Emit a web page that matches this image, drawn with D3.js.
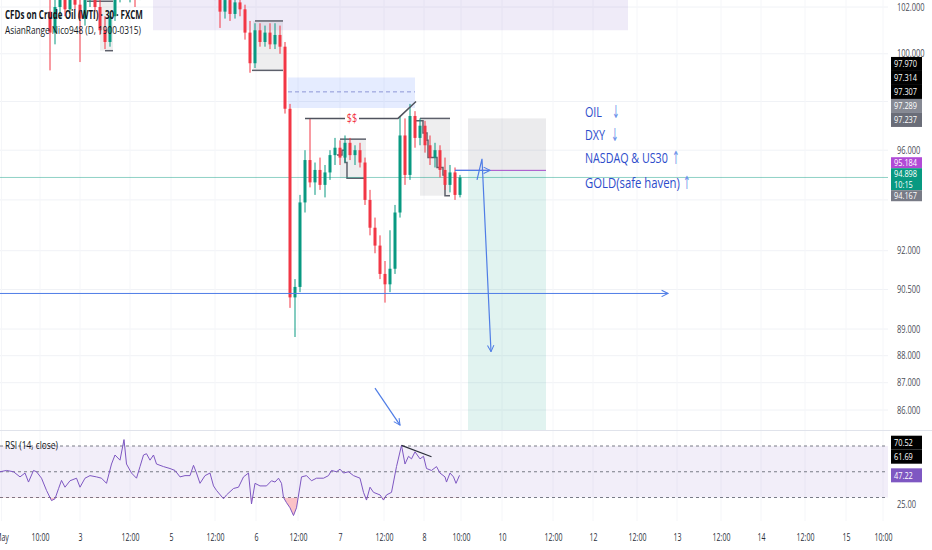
<!DOCTYPE html>
<html>
<head>
<meta charset="utf-8">
<script src="https://cdn.jsdelivr.net/npm/d3@7/dist/d3.min.js"></script>
<style>
  body { margin: 0; background: #fff; }
  svg { display: block; font-family: "Open Sans", sans-serif; }
</style>
</head>
<body>
<div id="chart"></div>
<script>
//---- sizes ----//
var width = 932, height = 550;
var plotW = 888;        // panes end here, price scale to the right
var priceBottom = 430;  // separator between price and RSI pane
var rsiBottom = 521;

//---- candles : one slot per bar, first visible slot ----//
var firstSlot = 10;
var opens = [101.8,100.9,102.0,102.4,101.9,102.5,102.1,101.5,102.3,102.9,
  102.0,101.0,100.5,101.6,102.5,103.1,102.9,103.3,102.5,103.2,
  103.7,104.1,103.9,104.5,104.9,104.6,104.2,104.4,104.1,103.7,
  103.9,103.5,103.1,102.9,102.6,101.8,102.3,101.7,102.2,101.9,
  100.9,99.6,101.0,100.5,100.9,100.4,100.8,100.3,97.7,90.2,
  90.6,93.9,95.6,94.7,95.2,94.6,95.1,95.8,96.1,95.7,
  96.3,95.8,96.0,95.5,94.0,92.9,92.2,91.1,90.7,91.3,
  93.5,96.6,95.0,97.4,96.5,97.0,96.2,95.7,96.0,95.2,
  94.6,95.1,94.2];
var highs = [102.6,102.5,103.0,103.0,102.8,103.0,102.6,102.6,103.2,103.2,
  102.3,101.6,101.8,102.8,103.4,103.8,103.5,103.6,103.5,104.0,
  104.4,104.6,104.8,105.1,105.3,105.0,104.7,104.9,104.5,104.2,
  104.3,103.9,103.5,103.3,103.0,102.6,102.7,102.5,102.8,102.1,
  101.4,101.3,101.3,101.2,101.3,101.3,101.2,100.5,97.9,90.9,
  94.2,96.0,97.3,95.5,95.7,95.4,96.0,96.5,96.4,96.6,
  96.5,96.2,96.3,95.7,94.4,93.3,92.6,91.6,92.8,93.8,
  97.4,97.3,97.9,97.6,97.3,97.2,96.6,96.3,96.2,95.7,
  95.4,95.3,95.0];
var lows = [99.3,100.4,101.5,101.6,101.7,101.9,99.65,101.2,102.0,101.8,
  100.8,100.2,100.3,101.4,102.2,102.6,102.2,102.0,102.3,102.9,
  103.4,103.6,103.7,104.2,104.3,104.0,103.8,104.0,103.4,103.2,
  103.3,102.9,102.6,102.3,101.1,101.5,101.4,101.5,101.6,100.6,
  99.2,99.4,100.3,100.3,100.2,100.2,100.0,97.5,89.8,88.7,
  90.4,93.5,94.5,94.2,94.4,94.1,94.8,95.4,95.4,95.5,
  95.6,95.4,95.3,93.8,92.6,91.9,90.9,90.0,90.4,91.1,
  93.3,94.6,94.8,96.1,96.2,95.9,95.4,95.3,94.9,94.4,
  94.3,94.0,94.1];
var closes = [100.9,102.0,102.4,101.9,102.5,102.1,101.5,102.3,102.9,102.0,
  101.0,100.5,101.6,102.5,103.1,102.9,103.3,102.5,103.2,103.7,
  104.1,103.9,104.5,104.9,104.6,104.2,104.4,104.1,103.7,103.9,
  103.5,103.1,102.9,102.6,101.8,102.3,101.7,102.2,101.9,100.9,
  99.6,101.0,100.5,100.9,100.4,100.8,100.3,97.7,90.2,90.6,
  93.9,95.6,94.7,95.2,94.6,95.1,95.8,96.1,95.7,96.3,
  95.8,96.0,95.5,94.0,92.9,92.2,91.1,90.7,91.3,93.5,
  96.6,95.0,97.4,96.5,97.0,96.2,95.7,96.0,95.2,94.6,
  95.1,94.2,94.898];

//---- RSI (14, close) ----//
var rsiT = [0,1.3,2.7,4,5,5.7,6.7,7.3,8.3,9.3,10.3,11,11.7,12.3,13,14,15.3,16,17,18,
  19.3,20.3,21.3,22.3,23,24,24.8,25.3,26.3,27.3,28,28.7,29.3,30,30.7,31.3,32.7,34,35,36,
  37,38,38.7,39.3,40,41,42,42.7,43.3,44.7,45.3,46.7,47.7,48.7,49.7,50.3,51,52,53.3,54.3,
  55,55.7,56.3,56.7,57.3,58,58.7,59.3,60.3,61.3,62.3,63.3,64.7,65.7,66.3,67.3,68,68.7,69.7,70.7,
  72,72.7,73.3,74,74.7,76,76.7,77.3,78.3,79.3,80.3,81,81.7,82.3,83,84,84.7,85.3,86.3,87.3,
  88,89,89.3,90,90.7,91.2,91.9];
var rsiV = [50,51,50,46,49,42,51,50,45,35.5,27.6,29,36.8,43.3,38,43,45,38,45,47,
  46,45,41,56,63,59,75,56,49,45,54,63,64,59,63,56,54,52.5,51,46,
  47,47,55,49,41,47,49,39,35.5,29,32,37,38,46,49,25,41,39,39,43,
  42,45,41,30,26,22,16,22,46,47,43,45,45,47,51,50,52,49,50,47,
  45,34,28,38,34,32,28,32,34,54,70.5,56,62,60,65.5,60,62,52.5,51,54,
  49,46,42,49,46,41,47.22];
var rsiTrendT = [80.3, 86.3];
var rsiTrendV = [70.52, 61.69];

//---- axis ticks ----//
var priceTicks = [102, 100, 96, 92, 90.5, 89, 88, 87, 86];
var gridTicks = [102, 100, 98, 96, 94, 92, 90.5, 89, 88, 87, 86];
var rsiTicks = [25];
var timePos = [0.3, 8, 16, 26, 34.2, 43, 51.2, 59.6, 68, 76.8, 84.8, 92.2, 100.4,
  110.6, 118.6, 127.4, 135.4, 144.2, 152.2, 161, 169.2, 176.6];
var timeLabels = ["May","10:00","3","12:00","5","12:00","6","12:00","7","12:00","8",
  "10:00","10","12:00","12","12:00","13","12:00","14","12:00","15","10:00"];

//---- price scale tags ----//
var tagsTop = [97.970, 97.314, 97.307, 97.289, 97.237];
var tagsTopFill = ['#000000','#000000','#000000','#868993','#6a6d78'];
var tagsMid = [95.184, 94.898, 94.167];
var tagsMidFill = ['#b14ad6','#089981','#787b86'];
var tagsMidSub = ['', '10:15', ''];
var rsiTags = [70.52, 61.69, 47.22];
var rsiTagsFill = ['#000000','#000000','#7e57c2'];
var lastPrice = 94.898;

//---- drawings (slot, price) ----//
var zoneT1 = [30.6, 57.6], zoneT2 = [125.6, 83];
var zoneTop = [103.5, 99.0], zoneBottom = [101.0, 97.73], zoneMid = [null, 98.4];

var boxT1 = [20, 50.6, 68, 84], boxT2 = [22.6, 56.6, 73.2, 90];
var boxTopFrom = [17.4, 51, 68, 84];
var boxHigh = [102.25, 101.4, 96.45, 97.3], boxLow = [100.13, 99.3, 94.87, 94.167];
var lowPathT = [[21, 22.6], [50.4, 56.6], [67.4, 68.4, 69, 69.4, 73.2],
  [83, 84.6, 85.4, 85.6, 87.4, 88.6, 89, 90]];
var lowPathP = [[100.13, 100.13], [99.3, 99.3], [95.8, 96.0, 95.5, 94.87, 94.87],
  [97.2, 96.7, 96.4, 95.7, 95.3, 95.0, 94.167, 94.167]];

var liqT = [61, 79.6, 83.2], liqP = [97.3, 97.3, 98.0], liqLabelT = 70.4;

var posT = [93.6, 109.2], posEntry = 95.184, posStop = 97.3, posTarget = 85.0;

var rayT = [0, 133.6], rayP = 90.35;
var arrowDownT = [95.4, 96.4, 98.2], arrowDownP = [94.8, 95.65, 88.15];
var arrowRightT = [91, 98], arrowRightP = [95.184, 95.184];
var arrowSmallT = [75, 80], arrowSmallP = [86.8, 85.45];

var noteT = 117;
var noteP = [97.36, 96.42, 95.48, 94.47];
var noteText = ['OIL', 'DXY', 'NASDAQ & US30', 'GOLD(safe haven)'];
var noteArrow = ['\u2193', '\u2193', '\u2191', '\u2191'];
var noteW = [17, 20, 83, 95];
var noteGap = [10, 6, 4, 3];

//---- scales ----//
var x = d3.scaleLinear().domain([0, 178]).range([0, 890]);
var y = d3.scaleLog().domain([86, 102]).range([410, 7]);
var yr = d3.scaleLinear().domain([30, 70]).range([497.5, 446]);

var upCol = '#089981', downCol = '#f23645';

//---- svg ----//
var svg = d3.select('#chart').append('svg').attr('width', width).attr('height', height);
svg.append('rect').attr('width', width).attr('height', height).attr('fill', '#fff');
var defs = svg.append('defs');
defs.append('clipPath').attr('id', 'clipPrice').append('rect')
  .attr('x', 0).attr('y', 0).attr('width', plotW).attr('height', priceBottom);
defs.append('clipPath').attr('id', 'clipRsi').append('rect')
  .attr('x', 0).attr('y', priceBottom + 1).attr('width', plotW).attr('height', rsiBottom - priceBottom - 1);
defs.append('clipPath').attr('id', 'clipLow').append('rect')
  .attr('x', 0).attr('y', yr(30)).attr('width', plotW).attr('height', 40);
defs.append('clipPath').attr('id', 'clipHigh').append('rect')
  .attr('x', 0).attr('y', priceBottom).attr('width', plotW).attr('height', yr(70) - priceBottom);

function chevron(id, color) {
  defs.append('marker').attr('id', id).attr('viewBox', '0 0 10 10')
    .attr('refX', 9).attr('refY', 5).attr('markerWidth', 8).attr('markerHeight', 8)
    .attr('markerUnits', 'userSpaceOnUse').attr('orient', 'auto')
    .append('path').attr('d', 'M1,1 L9,5 L1,9').attr('fill', 'none')
    .attr('stroke', color).attr('stroke-width', 1.3);
}
chevron('headBlue', '#4f7de6');

// text helper, the screenshot is squeezed sideways
// opt.fit squeezes the text to a wanted width, opt.sx by a fixed factor
function txt(g, str, px, py, size, color, opt) {
  opt = opt || {};
  var t = g.append('text').attr('font-size', size).attr('fill', color).text(str);
  if (opt.weight) t.attr('font-weight', opt.weight);
  if (opt.anchor) t.attr('text-anchor', opt.anchor);
  if (opt.dy) t.attr('dy', opt.dy);
  if (opt.family) t.attr('font-family', opt.family);
  var k = opt.sx || 1;
  if (opt.fit) k = opt.fit / t.node().getComputedTextLength();
  t.attr('transform', 'translate(' + px + ',' + py + ') scale(' + k + ',1)');
  return t;
}

//---- grid ----//
var grid = svg.append('g');
grid.selectAll('.hg').data(gridTicks).enter().append('line')
  .attr('x1', 0).attr('x2', plotW).attr('y1', d => y(d)).attr('y2', d => y(d))
  .attr('stroke', '#f0f2f6');
grid.selectAll('.vg').data(timePos).enter().append('line')
  .attr('x1', d => x(d)).attr('x2', d => x(d)).attr('y1', 0).attr('y2', rsiBottom)
  .attr('stroke', '#f5f6f9');

//---- price pane ----//
var pane = svg.append('g').attr('clip-path', 'url(#clipPrice)');

// supply / demand zones
zoneT1.forEach(function(t, i) {
  pane.append('rect').attr('x', x(t)).attr('width', x(zoneT2[i]) - x(t))
    .attr('y', y(zoneTop[i])).attr('height', y(zoneBottom[i]) - y(zoneTop[i]))
    .attr('fill', i === 0 ? 'rgba(126,87,194,0.12)' : 'rgba(41,98,255,0.12)');
  if (zoneMid[i] !== null) {
    pane.append('line').attr('x1', x(t)).attr('x2', x(zoneT2[i]))
      .attr('y1', y(zoneMid[i])).attr('y2', y(zoneMid[i]))
      .attr('stroke', '#8e96d6').attr('stroke-dasharray', '4,3');
  }
});

// position tool
pane.append('rect').attr('x', x(posT[0])).attr('width', x(posT[1]) - x(posT[0]))
  .attr('y', y(posStop)).attr('height', y(posEntry) - y(posStop)).attr('fill', 'rgba(120,123,134,0.15)');
pane.append('rect').attr('x', x(posT[0])).attr('width', x(posT[1]) - x(posT[0]))
  .attr('y', y(posEntry)).attr('height', y(posTarget) - y(posEntry)).attr('fill', 'rgba(8,153,129,0.12)');

// asian range boxes
boxT1.forEach(function(t, i) {
  pane.append('rect').attr('x', x(t)).attr('width', x(boxT2[i]) - x(t))
    .attr('y', y(boxHigh[i])).attr('height', y(boxLow[i]) - y(boxHigh[i]))
    .attr('fill', 'rgba(120,123,134,0.13)');
  pane.append('line').attr('x1', x(boxTopFrom[i])).attr('x2', x(boxT2[i]))
    .attr('y1', y(boxHigh[i])).attr('y2', y(boxHigh[i]))
    .attr('stroke', '#5d606b').attr('stroke-width', 1.5);
});
var stepLine = d3.line().curve(d3.curveStepAfter);
lowPathT.forEach(function(ts, i) {
  pane.append('path')
    .attr('d', stepLine(ts.map(function(t, k) { return [x(t), y(lowPathP[i][k])]; })))
    .attr('fill', 'none').attr('stroke', '#5d606b').attr('stroke-width', 1.5);
});

// last price line and entry line
pane.append('line').attr('x1', 0).attr('x2', plotW).attr('y1', y(lastPrice)).attr('y2', y(lastPrice))
  .attr('stroke', upCol).attr('stroke-opacity', 0.45);
pane.append('line').attr('x1', x(arrowRightT[0])).attr('x2', x(posT[1]))
  .attr('y1', y(posEntry)).attr('y2', y(posEntry)).attr('stroke', '#a64bc9');

// candles
var candles = opens.map(function(o, i) {
  return { t: firstSlot + i, o: o, h: highs[i], l: lows[i], c: closes[i] };
});
pane.selectAll('.wick').data(candles).enter().append('line')
  .attr('x1', d => x(d.t)).attr('x2', d => x(d.t))
  .attr('y1', d => y(d.h)).attr('y2', d => y(d.l))
  .attr('stroke', d => d.c >= d.o ? upCol : downCol).attr('stroke-width', 1);
pane.selectAll('.body').data(candles).enter().append('rect')
  .attr('x', d => x(d.t) - 1.5).attr('width', 3)
  .attr('y', d => y(Math.max(d.o, d.c)))
  .attr('height', d => Math.max(1, Math.abs(y(d.o) - y(d.c))))
  .attr('fill', d => d.c >= d.o ? upCol : downCol);

// liquidity line with $$
var lineXY = d3.line();
pane.append('path')
  .attr('d', lineXY(liqT.map(function(t, k) { return [x(t), y(liqP[k])]; })))
  .attr('fill', 'none').attr('stroke', '#50535e').attr('stroke-width', 1.5);
pane.append('rect').attr('x', x(liqLabelT) - 7).attr('y', y(liqP[0]) - 6).attr('width', 14).attr('height', 12).attr('fill', '#fff');
txt(pane, '$$', x(liqLabelT), y(liqP[0]), 12, downCol, { anchor: 'middle', dy: '0.35em', sx: 0.75 });

// blue drawings
pane.append('line').attr('x1', x(rayT[0])).attr('x2', x(rayT[1])).attr('y1', y(rayP)).attr('y2', y(rayP))
  .attr('stroke', '#4f7de6').attr('stroke-width', 1).attr('marker-end', 'url(#headBlue)');
[[arrowDownT, arrowDownP], [arrowRightT, arrowRightP], [arrowSmallT, arrowSmallP]].forEach(function(a) {
  pane.append('path')
    .attr('d', lineXY(a[0].map(function(t, k) { return [x(t), y(a[1][k])]; })))
    .attr('fill', 'none').attr('stroke', '#4f7de6').attr('stroke-width', 1.2)
    .attr('marker-end', 'url(#headBlue)');
});

// notes
noteText.forEach(function(s, i) {
  txt(pane, s, x(noteT), y(noteP[i]), 15, '#2c4ccb', { fit: noteW[i] });
  txt(pane, noteArrow[i], x(noteT) + noteW[i] + noteGap[i], y(noteP[i]) + 1, 18, '#6f95ea', { sx: 0.5, family: 'DejaVu Sans' });
});

// legend
txt(svg, 'CFDs on Crude Oil (WTI) \u00b7 30 \u00b7 FXCM', 5, 19, 11.5, '#131722', { fit: 138, weight: 'bold' });
txt(svg, 'AsianRange Nico948 (D, 1900-0315)', 5, 33.5, 11.5, '#131722', { fit: 136 });

//---- separator ----//
svg.append('line').attr('x1', 0).attr('x2', width).attr('y1', priceBottom + 0.5).attr('y2', priceBottom + 0.5)
  .attr('stroke', '#e0e3eb');

//---- RSI pane ----//
var rp = svg.append('g').attr('clip-path', 'url(#clipRsi)');
rp.append('rect').attr('x', 0).attr('width', plotW).attr('y', yr(70)).attr('height', yr(30) - yr(70))
  .attr('fill', 'rgba(126,87,194,0.1)');
[70, 50, 30].forEach(function(v) {
  rp.append('line').attr('x1', 0).attr('x2', plotW).attr('y1', yr(v)).attr('y2', yr(v))
    .attr('stroke', '#787b86').attr('stroke-dasharray', '3,3');
});
var rsiPts = rsiT.map(function(t, i) { return { t: t, v: rsiV[i] }; });
rp.append('path').datum(rsiPts).attr('clip-path', 'url(#clipLow)')
  .attr('d', d3.area().x(d => x(d.t)).y0(yr(30)).y1(d => yr(d.v)))
  .attr('fill', 'rgba(242,54,69,0.3)');
rp.append('path').datum(rsiPts).attr('clip-path', 'url(#clipHigh)')
  .attr('d', d3.area().x(d => x(d.t)).y0(yr(70)).y1(d => yr(d.v)))
  .attr('fill', 'rgba(8,153,129,0.2)');
rp.append('path').datum(rsiPts)
  .attr('d', d3.line().x(d => x(d.t)).y(d => yr(d.v)))
  .attr('fill', 'none').attr('stroke', '#7e57c2').attr('stroke-width', 1);
rp.append('line').attr('x1', x(rsiTrendT[0])).attr('x2', x(rsiTrendT[1]))
  .attr('y1', yr(rsiTrendV[0])).attr('y2', yr(rsiTrendV[1]))
  .attr('stroke', '#2a2e39').attr('stroke-width', 1.2);
txt(svg, 'RSI (14, close)', 5, 449, 11, '#131722', { fit: 53 });

//---- axes ----//
var sxAxis = 0.75;
var pAxis = svg.append('g').attr('transform', 'translate(' + plotW + ',0)')
  .call(d3.axisRight(y).tickValues(priceTicks).tickSize(0).tickFormat(d3.format('.3f')));
var rAxis = svg.append('g').attr('transform', 'translate(' + plotW + ',0)')
  .call(d3.axisRight(yr).tickValues(rsiTicks).tickSize(0).tickFormat(d3.format('.2f')));
[pAxis, rAxis].forEach(function(g) {
  g.select('.domain').remove();
  g.selectAll('text').attr('x', 9 / sxAxis).attr('transform', 'scale(' + sxAxis + ',1)')
    .attr('font-size', 10).attr('font-family', '"Open Sans", sans-serif').attr('fill', '#4a4d57');
});
var tAxis = svg.append('g').attr('transform', 'translate(0,531)')
  .call(d3.axisBottom(x).tickValues(timePos).tickSize(0).tickFormat(function(d, i) { return timeLabels[i]; }));
tAxis.select('.domain').remove();
tAxis.selectAll('text').attr('transform', 'scale(0.7,1)')
  .attr('font-size', 10).attr('font-family', '"Open Sans", sans-serif').attr('fill', '#2a2e39');

//---- scale tags, stacked upwards when they collide ----//
function drawTags(items) {
  for (var i = items.length - 2; i >= 0; i--) {
    var lim = items[i + 1].cy - (items[i + 1].h + items[i].h) / 2;
    if (items[i].cy > lim) items[i].cy = lim;
  }
  items.forEach(function(d) {
    svg.append('rect').attr('x', plotW + 3).attr('y', d.cy - d.h / 2)
      .attr('width', 31).attr('height', d.h).attr('fill', d.fill);
    var row = d.h / d.lines.length;
    d.lines.forEach(function(s, k) {
      txt(svg, s, plotW + 6, d.cy - d.h / 2 + row * (k + 0.5), 9.5, '#fff', { sx: sxAxis + 0.03, dy: '0.35em' });
    });
  });
}
drawTags(tagsTop.map(function(v, i) {
  return { cy: y(v), h: 14, fill: tagsTopFill[i], lines: [v.toFixed(3)] };
}));
drawTags(tagsMid.map(function(v, i) {
  var two = tagsMidSub[i] !== '';
  return { cy: y(v) + (two ? 5 : 0), h: two ? 22 : 11, fill: tagsMidFill[i],
           lines: two ? [v.toFixed(3), tagsMidSub[i]] : [v.toFixed(3)] };
}));
drawTags(rsiTags.map(function(v, i) {
  return { cy: yr(v), h: 14, fill: rsiTagsFill[i], lines: [v.toFixed(2)] };
}));
</script>
</body>
</html>
